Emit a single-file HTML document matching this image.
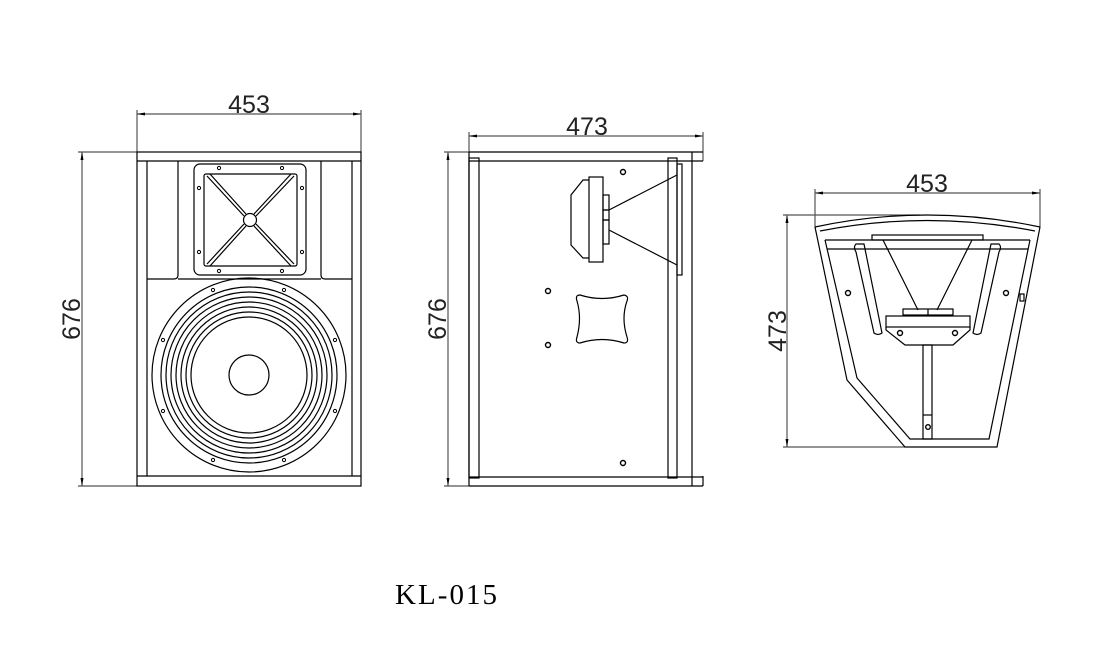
<!DOCTYPE html>
<html><head><meta charset="utf-8"><style>
html,body{margin:0;padding:0;background:#fff;}
svg{display:block;}
text.d{font-family:"Liberation Sans",sans-serif;font-size:25px;fill:#222;font-weight:normal;}
</style></head><body>
<svg width="1103" height="666" viewBox="0 0 1103 666" xmlns="http://www.w3.org/2000/svg">
<defs><marker id="a" markerWidth="8" markerHeight="6" refX="8" refY="3" orient="auto-start-reverse" markerUnits="userSpaceOnUse"><path d="M0,1.5 L8,3 L0,4.5z" fill="#000"/></marker></defs>
<g fill="none" stroke="#000" stroke-width="1.2">
<!-- FRONT -->
<line x1="137" y1="114" x2="361" y2="114" stroke="#555" marker-start="url(#a)" marker-end="url(#a)"/>
<line x1="137" y1="110" x2="137" y2="152" stroke="#555"/><line x1="361" y1="110" x2="361" y2="152" stroke="#555"/>
<line x1="82" y1="152" x2="82" y2="486" stroke="#555" marker-start="url(#a)" marker-end="url(#a)"/>
<line x1="78" y1="152" x2="137" y2="152" stroke="#555"/><line x1="78" y1="486" x2="137" y2="486" stroke="#555"/>
<rect x="137" y="152" width="224" height="334"/>
<line x1="137" y1="161" x2="361" y2="161"/><line x1="137" y1="476" x2="361" y2="476"/>
<line x1="147" y1="161" x2="147" y2="476"/><line x1="352" y1="161" x2="352" y2="476"/>
<path d="M178 161 V275 Q178 279 174 279 H147"/><path d="M321 161 V275 Q321 279 325 279 H352"/>
<line x1="178" y1="279" x2="321" y2="279"/>
<rect x="194" y="164" width="112" height="111" rx="6"/>
<rect x="204" y="174" width="93" height="92" rx="2"/>
<circle cx="250" cy="220" r="6.5"/>
<path d="M207 176 L244 216 M210 174 L246 214 M294 176 L256 216 M291 174 L254 214 M207 264 L244 224 M210 266 L246 226 M294 264 L256 224 M291 266 L254 226"/>
<g stroke-width="1"><circle cx="219" cy="168" r="1.6"/><circle cx="282" cy="168" r="1.6"/><circle cx="199" cy="188" r="1.6"/><circle cx="302" cy="188" r="1.6"/><circle cx="199" cy="252" r="1.6"/><circle cx="302" cy="252" r="1.6"/><circle cx="219" cy="271" r="1.6"/><circle cx="282" cy="271" r="1.6"/>
<circle cx="213" cy="290" r="1.6"/><circle cx="284" cy="290" r="1.6"/><circle cx="163" cy="340" r="1.6"/><circle cx="335" cy="340" r="1.6"/><circle cx="163" cy="411" r="1.6"/><circle cx="335" cy="411" r="1.6"/><circle cx="213" cy="460" r="1.6"/><circle cx="284" cy="460" r="1.6"/></g>
<circle cx="249" cy="375" r="97"/><circle cx="249" cy="375" r="88"/><circle cx="249" cy="375" r="83"/><circle cx="249" cy="375" r="78"/><circle cx="249" cy="375" r="73"/><circle cx="249" cy="375" r="68"/><circle cx="249" cy="375" r="63"/><circle cx="249" cy="375" r="58"/>
<circle cx="249" cy="375" r="20"/>
<!-- SIDE -->
<line x1="469" y1="136" x2="703" y2="136" stroke="#555" marker-start="url(#a)" marker-end="url(#a)"/>
<line x1="469" y1="132" x2="469" y2="152" stroke="#555"/><line x1="703" y1="132" x2="703" y2="161" stroke="#555"/>
<line x1="448" y1="152" x2="448" y2="486" stroke="#555" marker-start="url(#a)" marker-end="url(#a)"/>
<line x1="444" y1="152" x2="469" y2="152" stroke="#555"/><line x1="444" y1="486" x2="469" y2="486" stroke="#555"/>
<line x1="469" y1="152" x2="703" y2="152"/><line x1="469" y1="161" x2="703" y2="161"/>
<line x1="469" y1="477" x2="703" y2="477"/><line x1="469" y1="486" x2="703" y2="486"/>
<line x1="469" y1="152" x2="469" y2="486"/><line x1="692" y1="152" x2="692" y2="486"/>
<line x1="703" y1="476" x2="703" y2="486"/>
<rect x="469" y="158" width="10" height="320"/>
<rect x="668" y="158" width="9" height="320"/>
<rect x="677" y="164" width="5" height="111"/>
<path d="M609 210 L677 175 M609 230 L677 265"/>
<path d="M589 180 H583 L571 195 V245 L583 258 H589"/>
<rect x="589" y="177" width="14" height="85"/>
<rect x="603" y="195" width="6" height="15"/><rect x="603" y="210" width="6" height="10"/><rect x="603" y="220" width="6" height="24"/>
<g stroke-width="1.4"><circle cx="623" cy="172" r="2.5"/><circle cx="548" cy="291" r="2.5"/><circle cx="548" cy="345" r="2.5"/><circle cx="623" cy="463" r="2.5"/></g>
<path d="M580 295 Q602 302 624 295 Q629 296 627 301 Q621 318 627 337 Q629 343 624 343 Q602 336 580 343 Q575 343 577 337 Q582 318 577 301 Q575 295 580 295 Z"/>
<!-- TOP -->
<line x1="815" y1="193" x2="1040" y2="193" stroke="#555" marker-start="url(#a)" marker-end="url(#a)"/>
<line x1="815" y1="189" x2="815" y2="227" stroke="#555"/><line x1="1040" y1="189" x2="1040" y2="227" stroke="#555"/>
<line x1="787" y1="215" x2="787" y2="447" stroke="#555" marker-start="url(#a)" marker-end="url(#a)"/>
<line x1="783" y1="215" x2="920" y2="215" stroke="#555"/><line x1="783" y1="447" x2="905" y2="447" stroke="#555"/>
<path d="M815 227 Q927 203 1040 227"/>
<path d="M820 231 Q927 210 1035 231"/>
<path d="M815 227 L847 380 L905 447 L997 447 L1040 227"/>
<path d="M825 240 L857 378 L910 439 L989 439 L1030 240"/>
<line x1="825" y1="240" x2="1030" y2="240"/><line x1="827" y1="249" x2="1028" y2="249"/>
<rect x="872" y="235" width="111" height="5"/>
<path d="M856 244 Q853 247 856 252 L874 333 Q878 336 882 333 L864 244 Z"/>
<path d="M999 244 Q1002 247 999 252 L981 333 Q977 336 973 333 L991 244 Z"/>
<path d="M883 240 L918 310 M972 240 L937 310"/>
<rect x="903" y="309" width="50" height="6"/>
<line x1="928" y1="309" x2="928" y2="315"/>
<rect x="886" y="316" width="84" height="11"/>
<path d="M886 327 L886 330 L905 345 L953 345 L970 330 L970 327"/>
<rect x="923" y="345" width="9" height="94"/>
<line x1="923" y1="415" x2="932" y2="415"/>
<g stroke-width="1.4"><circle cx="900" cy="333" r="2.5"/><circle cx="955" cy="333" r="2.5"/><circle cx="928" cy="427" r="2.3"/><circle cx="848" cy="293" r="2.5"/><circle cx="1006" cy="293" r="2.5"/></g>
<rect x="1020" y="294" width="4" height="7"/>
</g>
<text class="d" x="249" y="113" text-anchor="middle">453</text>
<text class="d" x="587" y="135" text-anchor="middle">473</text>
<text class="d" x="927" y="192" text-anchor="middle">453</text>
<text class="d" transform="translate(80,319) rotate(-90)" text-anchor="middle">676</text>
<text class="d" transform="translate(446,319) rotate(-90)" text-anchor="middle">676</text>
<text class="d" transform="translate(786,331) rotate(-90)" text-anchor="middle">473</text>
<text x="395" y="604" font-family="'Liberation Serif','Noto Serif CJK SC',serif" font-size="29" fill="#000" textLength="102" lengthAdjust="spacing">KL-015</text>
</svg>
</body></html>
